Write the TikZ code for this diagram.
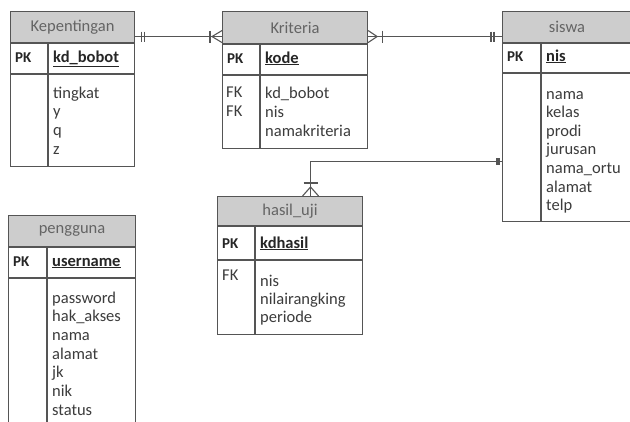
\documentclass[tikz,border=0pt]{standalone}
\usepackage{fontspec}
\setmainfont{Carlito}
\usetikzlibrary{calc}
\definecolor{hdrfill}{HTML}{CDCDCD}
\definecolor{edgegray}{HTML}{555555}
\definecolor{hdrtext}{HTML}{646464}
\definecolor{bodytext}{HTML}{3C3C3C}
\tikzset{
  boxline/.style={draw=edgegray, line width=1.1pt},
  hdr/.style={boxline, fill=hdrfill, anchor=north west, inner sep=0pt,
    text=hdrtext, font=\fontsize{16.5}{19}\selectfont},
  rowbox/.style={boxline, fill=white, anchor=north west, inner sep=0pt},
  attr/.style={anchor=base west, inner sep=0pt, text=bodytext,
    font=\fontsize{16.5}{19}\selectfont},
  keyname/.style={attr, text=black!85, font=\fontsize{16.5}{19}\selectfont\bfseries},
  tag/.style={attr, text=black!85, font=\fontsize{15}{18}\selectfont\bfseries},
  fktag/.style={attr, font=\fontsize{16.5}{19}\selectfont},
  rel/.style={draw=edgegray, line width=1.1pt},
}
\begin{document}
\begin{tikzpicture}[x=1pt, y=-1pt]
\useasboundingbox (0,0) rectangle (630,421);
\begin{scope}
\clip (0,0) rectangle (630,421);

% ---------- Kepentingan ----------
\node[hdr, minimum width=124pt, minimum height=31pt] (kep-h) at (10,11) {Kepentingan};
\node[rowbox, minimum width=124pt, minimum height=30pt] (kep-k) at (kep-h.south west) {};
\node[rowbox, minimum width=124pt, minimum height=92pt] (kep-b) at (kep-k.south west) {};
\draw[boxline] ([xshift=38pt]kep-k.north west) -- ([xshift=38pt]kep-b.south west);
\node[tag] (kep-pk) at (15,62) {PK};
\node[keyname] (kep-key) at (53,62) {\underline{kd\_bobot}};
\foreach \t [count=\i from 0] in {tingkat,y,q,z}
  \node[attr] (kep-a\i) at (53,{98+18.7*\i}) {\t};

% ---------- Kriteria ----------
\node[hdr, minimum width=145pt, minimum height=32pt] (krit-h) at (222,11) {Kriteria};
\node[rowbox, minimum width=145pt, minimum height=30pt] (krit-k) at (krit-h.south west) {};
\node[rowbox, minimum width=145pt, minimum height=73pt] (krit-b) at (krit-k.south west) {};
\draw[boxline] ([xshift=38pt]krit-k.north west) -- ([xshift=38pt]krit-b.south west);
\node[tag] (krit-pk) at (227,63) {PK};
\node[keyname] (krit-key) at (265,63) {\underline{kode}};
\node[fktag] (krit-fk1) at (226,97) {FK};
\node[fktag] (krit-fk2) at (226,116) {FK};
\foreach \t [count=\i from 0] in {kd\_bobot,nis,namakriteria}
  \node[attr] (krit-a\i) at (265,{98+19*\i}) {\t};

% ---------- siswa ----------
\node[hdr, minimum width=129pt, minimum height=31pt] (sis-h) at (502,11) {siswa};
\node[rowbox, minimum width=129pt, minimum height=29pt] (sis-k) at (sis-h.south west) {};
\node[rowbox, minimum width=129pt, minimum height=148pt] (sis-b) at (sis-k.south west) {};
\draw[boxline] ([xshift=39pt]sis-k.north west) -- ([xshift=39pt]sis-b.south west);
\node[tag] (sis-pk) at (507,61) {PK};
\node[keyname] (sis-key) at (546,61) {\underline{nis}};
\foreach \t [count=\i from 0] in {nama,kelas,prodi,jurusan,nama\_ortu,alamat,telp}
  \node[attr] (sis-a\i) at (546,{99+18.6*\i}) {\t};

% ---------- hasil_uji ----------
\node[hdr, minimum width=145pt, minimum height=29pt] (has-h) at (217,196) {hasil\_uji};
\node[rowbox, minimum width=145pt, minimum height=33pt] (has-k) at (has-h.south west) {};
\node[rowbox, minimum width=145pt, minimum height=74pt] (has-b) at (has-k.south west) {};
\draw[boxline] ([xshift=38pt]has-k.north west) -- ([xshift=38pt]has-b.south west);
\node[tag] (has-pk) at (222,248) {PK};
\node[keyname] (has-key) at (260,248) {\underline{kdhasil}};
\node[fktag] (has-fk) at (222,280) {FK};
\foreach \t [count=\i from 0] in {nis,nilairangking,periode}
  \node[attr] (has-a\i) at (260,{286+18*\i}) {\t};

% ---------- pengguna ----------
\node[hdr, minimum width=127pt, minimum height=31pt] (pen-h) at (8,215) {pengguna};
\node[rowbox, minimum width=127pt, minimum height=30pt] (pen-k) at (pen-h.south west) {};
\node[rowbox, minimum width=127pt, minimum height=160pt] (pen-b) at (pen-k.south west) {};
\draw[boxline] ([xshift=39pt]pen-k.north west) -- ([xshift=39pt]pen-b.south west);
\node[tag] (pen-pk) at (13,266) {PK};
\node[keyname] (pen-key) at (52,266) {\underline{username}};
\foreach \t [count=\i from 0] in {password,hak\_akses,nama,alamat,jk,nik,status}
  \node[attr] (pen-a\i) at (52,{303+18.7*\i}) {\t};

% ---------- relationships ----------
% Kepentingan (one and only one) -- Kriteria (one or many)
\coordinate (r1a) at ([yshift=-9.5pt]kep-h.east);
\coordinate (r1b) at (r1a -| krit-h.west);
\draw[rel] (r1a) -- (r1b);
\draw[rel] ([xshift=6pt,yshift=5pt]r1a) -- ([xshift=6pt,yshift=-5pt]r1a);
\draw[rel] ([xshift=9pt,yshift=5pt]r1a) -- ([xshift=9pt,yshift=-5pt]r1a);
\draw[rel] ([xshift=-12pt,yshift=6pt]r1b) -- ([xshift=-12pt,yshift=-6pt]r1b);
\draw[rel] ([yshift=6pt]r1b) -- ([xshift=-10pt]r1b) -- ([yshift=-6pt]r1b);

% Kriteria (one or many) -- siswa (one and only one)
\coordinate (r2a) at ([yshift=-9pt]krit-h.east);
\coordinate (r2b) at (r2a -| sis-h.west);
\draw[rel] (r2a) -- (r2b);
\draw[rel] ([yshift=6pt]r2a) -- ([xshift=9pt]r2a) -- ([yshift=-6pt]r2a);
\draw[rel] ([xshift=14pt,yshift=6pt]r2a) -- ([xshift=14pt,yshift=-6pt]r2a);
\draw[rel] ([xshift=-11pt,yshift=5pt]r2b) -- ([xshift=-11pt,yshift=-5pt]r2b);
\draw[rel] ([xshift=-8pt,yshift=5pt]r2b) -- ([xshift=-8pt,yshift=-5pt]r2b);

% siswa (one and only one) -- hasil_uji (one or many)
\coordinate (r3a) at ([yshift=-14pt]sis-b.west);
\coordinate (r3b) at ([xshift=20.5pt]has-h.north);
\draw[rel] (r3a) -| (r3b);
\draw[rel] ([xshift=-5pt,yshift=3.5pt]r3a) -- ([xshift=-5pt,yshift=-3.5pt]r3a);
\draw[rel] ([xshift=-3pt,yshift=3.5pt]r3a) -- ([xshift=-3pt,yshift=-3.5pt]r3a);
\draw[rel] ([xshift=-7pt,yshift=13pt]r3b) -- ([xshift=7pt,yshift=13pt]r3b);
\draw[rel] ([xshift=-8pt]r3b) -- ([yshift=9pt]r3b) -- ([xshift=8pt]r3b);
\end{scope}
\end{tikzpicture}
\end{document}
